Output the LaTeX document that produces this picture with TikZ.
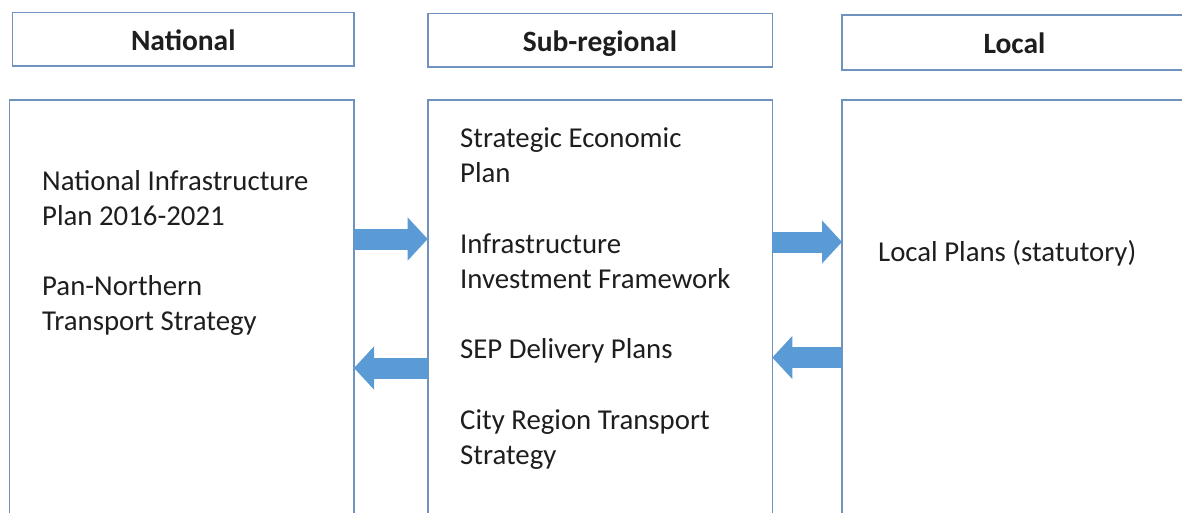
\documentclass[tikz,border=0pt]{standalone}
\usepackage{fontspec}
\setmainfont{Carlito}
\usetikzlibrary{arrows.meta}
\definecolor{boxline}{RGB}{112,146,190}
\definecolor{arrowblue}{RGB}{91,155,213}
\definecolor{inktext}{RGB}{30,30,30}
\begin{document}
\begin{tikzpicture}[x=1pt,y=-1pt,
  panel/.style={draw=boxline,line width=1.6pt,fill=white,inner sep=0pt,outer sep=0pt},
  header/.style={panel,text=inktext,font=\fontsize{29.5}{35}\selectfont\bfseries,
    text height=26pt,text depth=4pt},
  column/.style={panel,minimum height=460pt},
  % multi-line text: the base anchor sits on the last line
  body/.style={font=\fontsize{28.8}{35.1}\selectfont,align=left,anchor=base west,
    inner sep=0pt,text=inktext},
  flow/.style={draw=arrowblue,line width=21pt,
    -{Triangle[width=42pt,length=20pt]}},
]
\useasboundingbox (0,0) rectangle (1182,512);
\clip (0,0) rectangle (1182,512);

% column headings
\node[header,minimum width=341.5pt,minimum height=53.4pt] (hnat) at (183.25,39) {National};
\node[header,minimum width=344.6pt,minimum height=53.4pt] (hsub) at (600,40) {Sub-regional};
\node[header,minimum width=345pt,minimum height=55pt] (hloc) at (1014.5,42.5) {Local};

% column bodies
\node[column,minimum width=344.5pt] (bnat) at (181.75,330) {};
\node[column,minimum width=344.6pt] (bsub) at (600,330) {};
\node[column,minimum width=345pt] (bloc) at (1014.5,330) {};

% column contents
\node[body] (tnat) at (42,330.4) {National Infrastructure\\Plan 2016-2021\\[35.1pt]Pan-Northern\\Transport Strategy};
\node[body] (tsub) at (460,464.5) {Strategic Economic\\Plan\\[35.4pt]Infrastructure\\Investment Framework\\[35.4pt]SEP Delivery Plans\\[35.4pt]City Region Transport\\Strategy};
\node[body] (tloc) at (878,261) {Local Plans (statutory)};

% flows between levels
\draw[flow] (bnat.east |- 0,239) -- (bsub.west |- 0,239);
\draw[flow] (bsub.west |- 0,368) -- (bnat.east |- 0,368);
\draw[flow] (bsub.east |- 0,242) -- (bloc.west |- 0,242);
\draw[flow] (bloc.west |- 0,357.5) -- (bsub.east |- 0,357.5);
\end{tikzpicture}
\end{document}
